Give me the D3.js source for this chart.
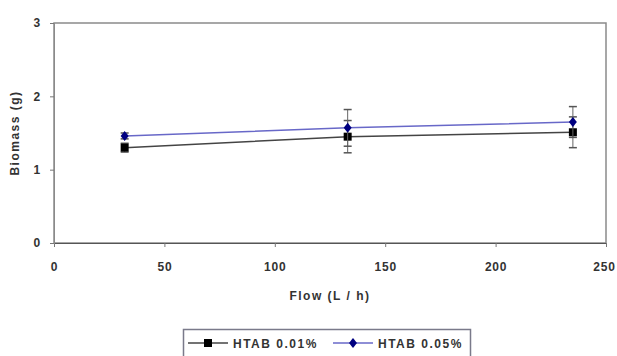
<!DOCTYPE html>
<html>
<head>
<meta charset="utf-8">
<script src="https://cdn.jsdelivr.net/npm/d3@7"></script>
<style>
  body { margin: 0; background: #fff; }
  text { font-family: "Liberation Sans", Arial, sans-serif; font-weight: bold; fill: #333; letter-spacing: 1.5px; }
  .tick text { letter-spacing: 0.8px; }
</style>
</head>
<body>
<div id="chart"></div>
<script>
// values
const flows = [32, 133, 235];
const seriesNames = ["HTAB 0.01%", "HTAB 0.05%"];
const low = [1.30, 1.45, 1.51];     // HTAB 0.01%
const lowErr = [0.06, 0.22, 0.21];
const high = [1.46, 1.57, 1.65];    // HTAB 0.05%
const highErr = [0.04, 0.25, 0.21];
const xTicks = [0, 50, 100, 150, 200, 250];
const yTicks = [0, 1, 2, 3];

const width = 617;
const height = 356;
const margin = {top: 23, bottom: 113, left: 54, right: 11};

const svg = d3.select("#chart")
    .append("svg")
    .attr("width", width)
    .attr("height", height);

const x = d3.scaleLinear()
    .domain([0, 250])
    .range([margin.left, width - margin.right]);

const y = d3.scaleLinear()
    .domain([0, 3])
    .range([height - margin.bottom, margin.top]);

// plot frame
svg.append("rect")
    .attr("x", x(0))
    .attr("y", y(3))
    .attr("width", x(250) - x(0))
    .attr("height", y(0) - y(3))
    .attr("fill", "none")
    .attr("stroke", "#8a8a8a")
    .attr("stroke-width", 1.5);

function xAxis(g) {
    g.attr("transform", `translate(0, ${y(0)})`)
     .call(d3.axisBottom(x).tickValues(xTicks).tickFormat(d3.format("d")).tickSize(4).tickPadding(15))
     .attr("font-size", "12px");
    g.select(".domain").attr("stroke", "#555");
    g.selectAll(".tick line").attr("stroke", "#777");
    // last label sits against the right edge
    g.selectAll(".tick text").filter(d => d === 250).attr("dx", "-2px");
}

function yAxis(g) {
    g.attr("transform", `translate(${x(0)}, 0)`)
     .call(d3.axisLeft(y).tickValues(yTicks).tickFormat(d3.format("d")).tickSize(4).tickPadding(9))
     .attr("font-size", "12px");
    g.select(".domain").attr("stroke", "#8a8a8a");
    g.selectAll(".tick line").attr("stroke", "#777");
}

svg.append("g").call(xAxis);
svg.append("g").call(yAxis);
svg.selectAll(".tick text")
    .style("font-family", "Liberation Sans, Arial, sans-serif")
    .style("font-weight", "bold")
    .attr("fill", "#333");

// axis titles
svg.append("text")
    .attr("x", (x(0) + x(250)) / 2)
    .attr("y", 300)
    .attr("text-anchor", "middle")
    .attr("font-size", "12px")
    .text("Flow (L / h)");

svg.append("text")
    .attr("transform", `translate(19, ${(y(0) + y(3)) / 2}) rotate(-90)`)
    .attr("text-anchor", "middle")
    .attr("font-size", "12px")
    .text("Biomass (g)");

const series = [
    {name: seriesNames[0], values: low, errs: lowErr, line: "#444", mark: "#000", shape: "square"},
    {name: seriesNames[1], values: high, errs: highErr, line: "#6868c8", mark: "#000080", shape: "diamond"}
];

const line = d3.line()
    .x((d, i) => x(flows[i]))
    .y(d => y(d));

function drawMarker(g, s, cx, cy) {
    if (s.shape === "square") {
        g.append("rect")
            .attr("x", cx - 4).attr("y", cy - 4)
            .attr("width", 8).attr("height", 8)
            .attr("fill", s.mark);
    } else {
        g.append("path")
            .attr("d", `M${cx},${cy - 5}L${cx + 4},${cy}L${cx},${cy + 5}L${cx - 4},${cy}Z`)
            .attr("fill", s.mark);
    }
}

for (const s of series) {
    const g = svg.append("g");
    // error bars
    s.values.forEach((v, i) => {
        const cx = x(flows[i]);
        const e = s.errs[i];
        g.append("line")
            .attr("x1", cx).attr("x2", cx)
            .attr("y1", y(v - e)).attr("y2", y(v + e))
            .attr("stroke", "#666").attr("stroke-width", 1);
        for (const end of [v - e, v + e]) {
            g.append("line")
                .attr("x1", cx - 4).attr("x2", cx + 4)
                .attr("y1", y(end)).attr("y2", y(end))
                .attr("stroke", "#555").attr("stroke-width", 1.5);
        }
    });
    g.append("path")
        .datum(s.values)
        .attr("d", line)
        .attr("fill", "none")
        .attr("stroke", s.line)
        .attr("stroke-width", 1.5);
    s.values.forEach((v, i) => drawMarker(g, s, x(flows[i]), y(v)));
}

// legend
const legend = svg.append("g");
legend.append("rect")
    .attr("x", 183.5).attr("y", 329.5)
    .attr("width", 287).attr("height", 30)
    .attr("fill", "#fff")
    .attr("stroke", "#7a7a8a")
    .attr("stroke-width", 1.5);

const legendX = [188, 333];
series.forEach((s, i) => {
    const lx = legendX[i];
    const ly = 343;
    legend.append("line")
        .attr("x1", lx).attr("x2", lx + 40)
        .attr("y1", ly).attr("y2", ly)
        .attr("stroke", s.line).attr("stroke-width", 1.5);
    drawMarker(legend, s, lx + 20, ly);
    legend.append("text")
        .attr("x", lx + 45)
        .attr("y", ly + 4.5)
        .attr("font-size", "12px")
        .text(s.name);
});
</script>
</body>
</html>
